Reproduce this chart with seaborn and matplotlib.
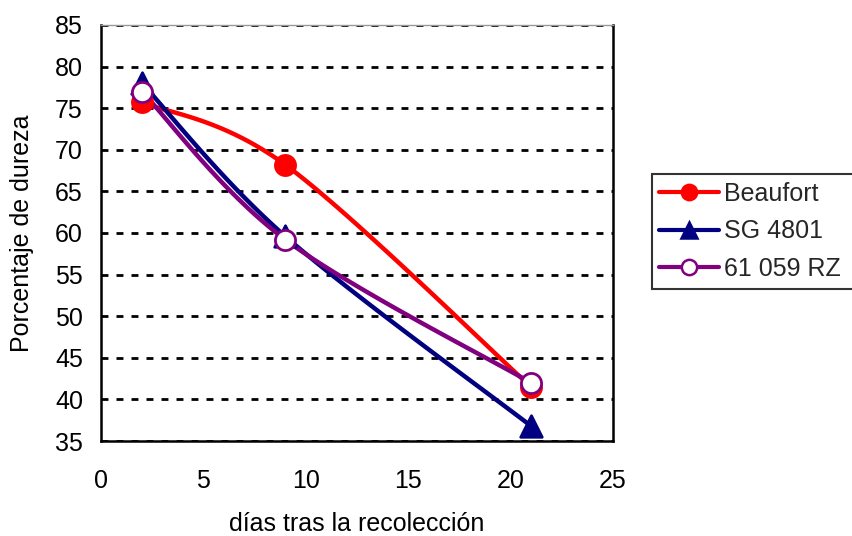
import numpy as np
import pandas as pd
import matplotlib
matplotlib.use("Agg")
import matplotlib.pyplot as plt
from matplotlib.lines import Line2D
import seaborn as sns

# Hardness measurements after harvest
dias = [2, 9, 21]
beaufort = [75.7, 68.2, 41.5]
sg4801 = [78.0, 59.6, 36.8]
rz61059 = [77.0, 59.2, 42.0]

series_names = ["Beaufort", "SG 4801", "61 059 RZ"]
series_values = [beaufort, sg4801, rz61059]
colors = ["#FF0000", "#000080", "#800080"]
markers = ["o", "^", "o"]
facecolors = ["#FF0000", "#000080", "#FFFFFF"]

x_ticks = [0, 5, 10, 15, 20, 25]
y_ticks = [35, 40, 45, 50, 55, 60, 65, 70, 75, 80, 85]

sns.set_theme(style="white")
plt.rcParams["font.family"] = ["Liberation Sans", "DejaVu Sans"]

FS = 18


def smooth_curve(xs, ys, n=60):
    """Bezier smoothing through the points (Catmull-Rom style tangents)."""
    pts = np.column_stack([xs, ys]).astype(float)
    ext = np.vstack([pts[0], pts, pts[-1]])
    out = []
    t = np.linspace(0, 1, n)
    for i in range(len(pts) - 1):
        p0 = ext[i + 1]
        p3 = ext[i + 2]
        c1 = p0 + (ext[i + 2] - ext[i]) / 6.0
        c2 = p3 - (ext[i + 3] - ext[i + 1]) / 6.0
        seg = ((1 - t) ** 3)[:, None] * p0 + (3 * (1 - t) ** 2 * t)[:, None] * c1 \
            + (3 * (1 - t) * t ** 2)[:, None] * c2 + (t ** 3)[:, None] * p3
        out.append(seg if i == 0 else seg[1:])
    out = np.vstack(out)
    return out[:, 0], out[:, 1]


fig = plt.figure(figsize=(8.53, 5.36), dpi=100)
ax = fig.add_axes([0.1184, 0.1772, 0.6002, 0.7762])

for y in y_ticks:
    ax.axhline(y, color="black", lw=2, dashes=(2.5, 2.9), zorder=1)

for name, vals, c, m, fc in zip(series_names, series_values, colors, markers, facecolors):
    sx, sy = smooth_curve(dias, vals)
    ax.plot(sx, sy, color=c, lw=3.2, solid_capstyle="round", zorder=3)
    df = pd.DataFrame({"dias": dias, "valor": vals})
    sns.scatterplot(data=df, x="dias", y="valor", ax=ax, marker=m, s=210 if m == "o" else 240,
                    color=fc, edgecolor=c, linewidth=2, zorder=4, legend=False)

ax.set_xlim(0, 25)
ax.set_ylim(35, 85)
ax.set_xticks(x_ticks)
ax.set_yticks(y_ticks)
ax.tick_params(axis="both", which="both", direction="out", length=6, width=1.5,
               color="black", labelsize=FS, labelcolor="black")
ax.tick_params(axis="x", pad=14)
ax.tick_params(axis="y", pad=7)

for side in ["left", "bottom", "right"]:
    ax.spines[side].set_visible(True)
    ax.spines[side].set_color("black")
    ax.spines[side].set_linewidth(1.8)
ax.spines["top"].set_visible(True)
ax.spines["top"].set_color("#999999")
ax.spines["top"].set_linewidth(1.0)

ax.set_xlabel("días tras la recolección", fontsize=FS, color="black", labelpad=14)
ax.set_ylabel("Porcentaje de dureza", fontsize=FS, color="black", labelpad=15)

handles = [
    Line2D([0], [0], color=c, lw=3, marker=m, markersize=11, markerfacecolor=fc,
           markeredgecolor=c, markeredgewidth=1.8)
    for c, m, fc in zip(colors, markers, facecolors)
]
leg = fig.legend(handles, series_names, loc="upper left",
                 bbox_to_anchor=(0.764, 0.0, 0.30, 0.675), mode="expand",
                 frameon=True, fontsize=FS, handlelength=2.4, handletextpad=0.2,
                 labelspacing=0.55, borderpad=0.3, borderaxespad=0, fancybox=False)
leg.get_frame().set_edgecolor("black")
leg.get_frame().set_linewidth(1.5)

fig.savefig("out.png", dpi=100, facecolor="white")
